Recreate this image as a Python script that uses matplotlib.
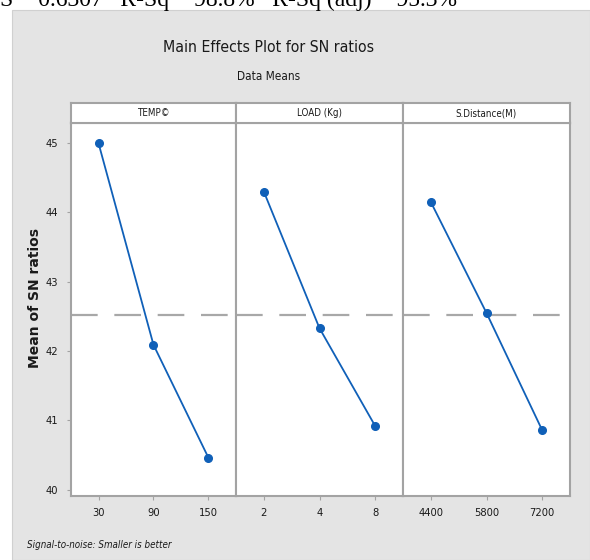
import matplotlib
matplotlib.use('Agg')
import matplotlib.pyplot as plt
from matplotlib.patches import Rectangle
import numpy as np

# main effects data
factors = ['TEMP©', 'LOAD (Kg)', 'S.Distance(M)']
levels = [['30', '90', '150'], ['2', '4', '8'], ['4400', '5800', '7200']]
temp_means = [45.00, 42.09, 40.46]
load_means = [44.30, 42.33, 40.92]
dist_means = [44.15, 42.55, 40.86]
y_ticks = [40, 41, 42, 43, 44, 45]
stats_text = 'S = 0.6307   R-Sq = 98.8%   R-Sq (adj) = 95.3%'

means = [temp_means, load_means, dist_means]
grand_mean = np.mean(np.concatenate(means))

narrow = dict(family='DejaVu Sans', stretch='condensed')
blue = '#1060b8'
frame = '#a3a3a3'
ink = '#1a1a1a'

W, H = 590, 560
fig = plt.figure(figsize=(W / 100, H / 100), dpi=100)
fig.patch.set_facecolor('white')

# minitab grey background
fig.patches.append(Rectangle((12 / W, 0), 1 - 12 / W, 1 - 10 / H, transform=fig.transFigure,
                             facecolor='#e4e4e4', edgecolor='#d0d0d0', lw=0.8, zorder=-10))

# cut-off regression summary at the very top
fig.text(0.0, 1 - 6 / H, stats_text, family='Liberation Serif', fontsize=17,
         ha='left', va='baseline', color='black')

fig.text(269 / W, 1 - 47 / H, 'Main Effects Plot for SN ratios', fontsize=11.3,
         ha='center', va='center', color=ink, **narrow)
fig.text(269 / W, 1 - 77 / H, 'Data Means', fontsize=8.5,
         ha='center', va='center', color=ink, **narrow)

edges = [71, 236, 403, 570]
top, bottom, strip_top = 123, 496, 103
ylim = (39.91, 45.29)

for i in range(3):
    x0, x1 = edges[i], edges[i + 1]
    ax = fig.add_axes([x0 / W, 1 - bottom / H, (x1 - x0) / W, (bottom - top) / H])
    xs = np.arange(1, 4)
    ax.plot(xs, means[i], color=blue, lw=1.3, marker='o', ms=5.5, zorder=3)
    ax.axhline(grand_mean, color='#a8a8a8', lw=1.6, dashes=(12, 7.5), zorder=2)
    ax.set_xlim(0.5, 3.5)
    ax.set_ylim(*ylim)
    ax.set_xticks(xs)
    ax.set_xticklabels(levels[i], fontsize=8, **narrow)
    ax.set_yticks(y_ticks)
    if i == 0:
        ax.set_yticklabels([str(t) for t in y_ticks], fontsize=8, **narrow)
    else:
        ax.tick_params(axis='y', left=False, labelleft=False)
    ax.tick_params(axis='both', direction='out', length=3, width=0.8, color=frame,
                   labelcolor=ink, pad=6)
    for s in ax.spines.values():
        s.set_color(frame)
        s.set_linewidth(1.5)

    # strip header
    sax = fig.add_axes([x0 / W, 1 - top / H, (x1 - x0) / W, (top - strip_top) / H])
    sax.set_xticks([])
    sax.set_yticks([])
    for s in sax.spines.values():
        s.set_color(frame)
        s.set_linewidth(1.5)
    sax.text(0.5, 0.5, factors[i], fontsize=7, ha='center', va='center',
             color=ink, transform=sax.transAxes, **narrow)

fig.text(35 / W, 1 - 298 / H, 'Mean of SN ratios', rotation=90, family='DejaVu Sans',
         fontweight='bold', fontsize=10, ha='center', va='center', color=ink)

fig.text(27 / W, 1 - 545 / H, 'Signal-to-noise: Smaller is better', style='italic',
         fontsize=7, ha='left', va='center', color=ink, **narrow)

fig.savefig('out.png', dpi=100)
